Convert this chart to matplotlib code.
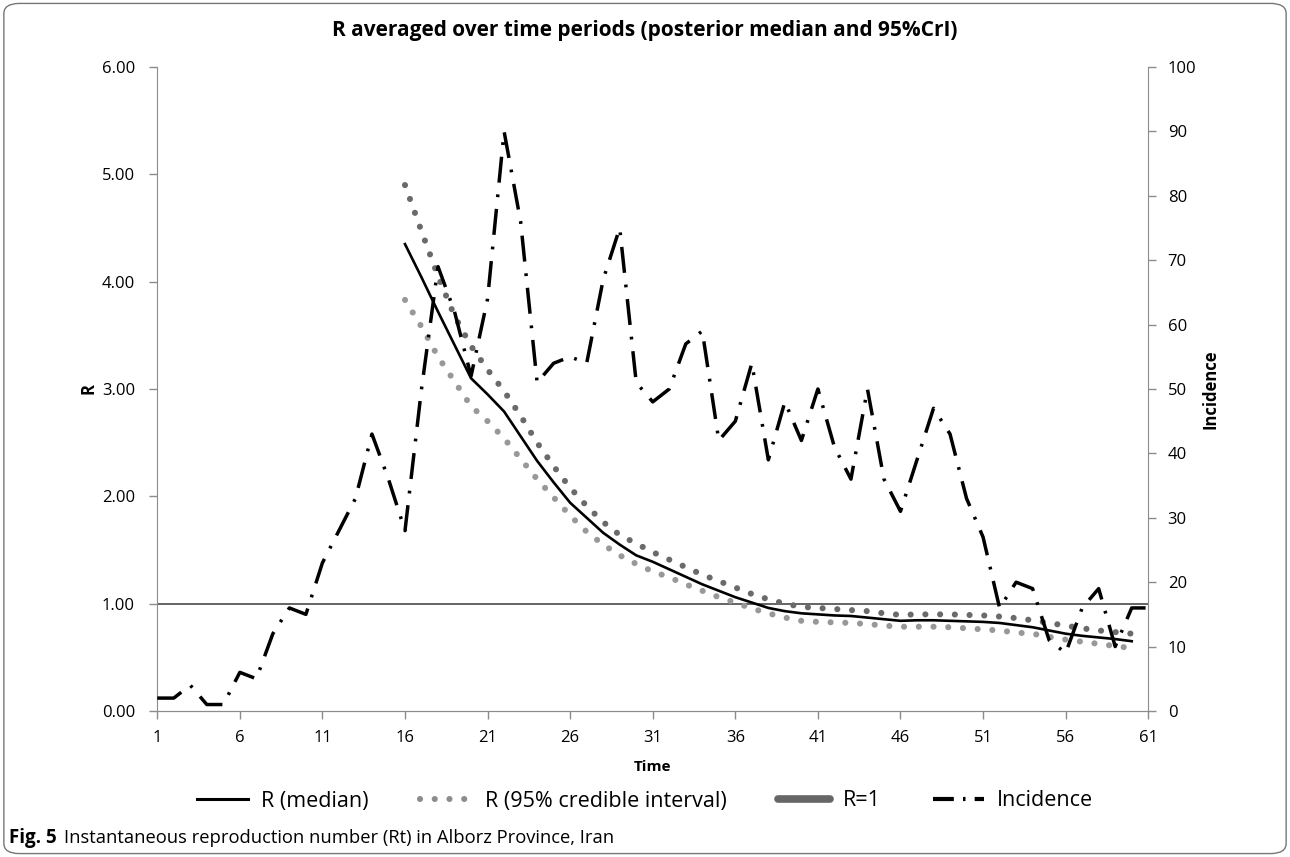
"""
Rt plot for Alborz province: R (median + 95% CrI) and daily incidence
"""
import matplotlib
matplotlib.use("Agg")
import matplotlib.pyplot as plt
from matplotlib.lines import Line2D
from matplotlib.patches import FancyBboxPatch
from matplotlib.ticker import FormatStrFormatter

plt.rcParams['font.family'] = ['Open Sans', 'DejaVu Sans']

# 데이터
days = list(range(1, 62))
incidence = [2, 2, 4, 1, 1, 6, 5, 12, 16, 15,
             23, 28, 33, 43, 36, 28, 50, 69, 62, 52,
             64, 90, 76, 51, 54, 55, 54, 67, 75, 51,
             48, 50, 57, 59, 42, 45, 54, 39, 48, 42,
             50, 41, 36, 50, 36, 31, 39, 47, 43, 33,
             27, 16, 20, 19, 11, 9, 16, 19, 10, 16,
             16]

r_days = list(range(16, 61))
r_median = [4.35, 4.04, 3.72, 3.41, 3.10, 2.95, 2.79, 2.56, 2.33, 2.13,
            1.94, 1.80, 1.66, 1.55, 1.45, 1.39, 1.32, 1.25, 1.18, 1.12,
            1.06, 1.01, 0.96, 0.93, 0.91, 0.90, 0.89, 0.885, 0.87, 0.855,
            0.84, 0.845, 0.845, 0.84, 0.835, 0.83, 0.82, 0.80, 0.78, 0.75,
            0.72, 0.70, 0.685, 0.67, 0.65]
r_upper = [4.90, 4.47, 4.05, 3.68, 3.40, 3.18, 2.98, 2.75, 2.50, 2.28,
           2.08, 1.91, 1.76, 1.64, 1.56, 1.48, 1.41, 1.34, 1.27, 1.21,
           1.15, 1.09, 1.04, 1.00, 0.97, 0.96, 0.95, 0.94, 0.93, 0.91,
           0.895, 0.90, 0.90, 0.90, 0.895, 0.89, 0.88, 0.865, 0.845, 0.82,
           0.795, 0.77, 0.75, 0.735, 0.72]
r_lower = [3.83, 3.58, 3.30, 3.07, 2.84, 2.70, 2.54, 2.35, 2.16, 1.99,
           1.82, 1.67, 1.55, 1.45, 1.37, 1.30, 1.245, 1.18, 1.12, 1.06,
           1.01, 0.955, 0.91, 0.87, 0.84, 0.83, 0.825, 0.82, 0.81, 0.795,
           0.785, 0.785, 0.785, 0.78, 0.77, 0.76, 0.75, 0.73, 0.72, 0.69,
           0.665, 0.645, 0.625, 0.605, 0.585]

x_ticks = list(range(1, 62, 5))
r_ticks = [0, 1, 2, 3, 4, 5, 6]
inc_ticks = list(range(0, 101, 10))

axis_grey = '#8c8c8c'
dot_style = (0, (0.01, 2.4))
dashdot_style = (0, (7.5, 3.4, 0.8, 3.4))

fig = plt.figure(figsize=(12.9, 8.57), dpi=100)
ax = fig.add_axes([0.1219, 0.1704, 0.7682, 0.7514])
ax2 = ax.twinx()

# R 곡선
ax.axhline(1.0, color='#3a3a3a', lw=1.1, zorder=2)
ax.plot(r_days, r_upper, color='#6a6a6a', lw=4.4, ls=dot_style,
        dash_capstyle='round', zorder=3)
ax.plot(r_days, r_lower, color='#989898', lw=4.4, ls=dot_style,
        dash_capstyle='round', zorder=3)
ax.plot(r_days, r_median, color='black', lw=1.9, zorder=4)

# incidence (오른쪽 축)
ax2.plot(days, incidence, color='black', lw=2.5, ls=dashdot_style,
         dash_capstyle='butt')

ax.set_xlim(1, 61)
ax.set_ylim(0, 6)
ax2.set_ylim(0, 100)
ax.set_xticks(x_ticks)
ax.set_yticks(r_ticks)
ax2.set_yticks(inc_ticks)
ax.yaxis.set_major_formatter(FormatStrFormatter('%.2f'))

for a in (ax, ax2):
    a.spines['top'].set_visible(False)
    for s in ('left', 'right', 'bottom'):
        a.spines[s].set_color(axis_grey)
    a.tick_params(colors=axis_grey, labelcolor='black', labelsize=12,
                  length=6, width=1)
ax.spines['right'].set_visible(False)
ax2.spines['left'].set_visible(False)
ax.tick_params(axis='y', pad=10)
ax2.tick_params(axis='y', pad=8)
ax.tick_params(axis='x', pad=8)

ax.set_xlabel('Time', fontsize=11, fontweight='bold', labelpad=10)
ax.set_ylabel('R', fontsize=12, fontweight='bold', labelpad=3)
ax2.set_ylabel('Incidence', fontsize=12, fontweight='bold', labelpad=4)

fig.text(0.5, 0.964, 'R averaged over time periods (posterior median and 95%CrI)',
         ha='center', va='center', fontsize=15, fontweight='bold')

# 범례
handles = [
    Line2D([], [], color='black', lw=2.2),
    Line2D([], [], color='#8c8c8c', lw=4.4, ls=(0, (0.01, 2.4)),
           dash_capstyle='round'),
    Line2D([], [], color='#666666', lw=5.5, solid_capstyle='round'),
    Line2D([], [], color='black', lw=3, ls=(0, (5, 2.2, 0.6, 2.2))),
]
labels = ['R (median)', 'R (95% credible interval)', 'R=1', 'Incidence']
fig.legend(handles, labels, loc='center', bbox_to_anchor=(0.5, 1 - 801 / 857),
           ncol=4, frameon=False, fontsize=15.5, handlelength=2.4,
           columnspacing=2.4, handletextpad=0.6)

# 캡션
fig.text(0.007, 1 - 838 / 857, 'Fig. 5', fontsize=13.5, fontweight='bold',
         va='center')
fig.text(0.050, 1 - 838 / 857,
         'Instantaneous reproduction number (Rt) in Alborz Province, Iran',
         fontsize=13.2, va='center')

# 둥근 테두리
frame = FancyBboxPatch((0.003, 0.004), 0.994, 0.992,
                       boxstyle='round,pad=0,rounding_size=0.012',
                       transform=fig.transFigure, fill=False,
                       edgecolor='#777777', lw=1.0)
fig.patches.append(frame)

fig.savefig('out.png', dpi=100)
